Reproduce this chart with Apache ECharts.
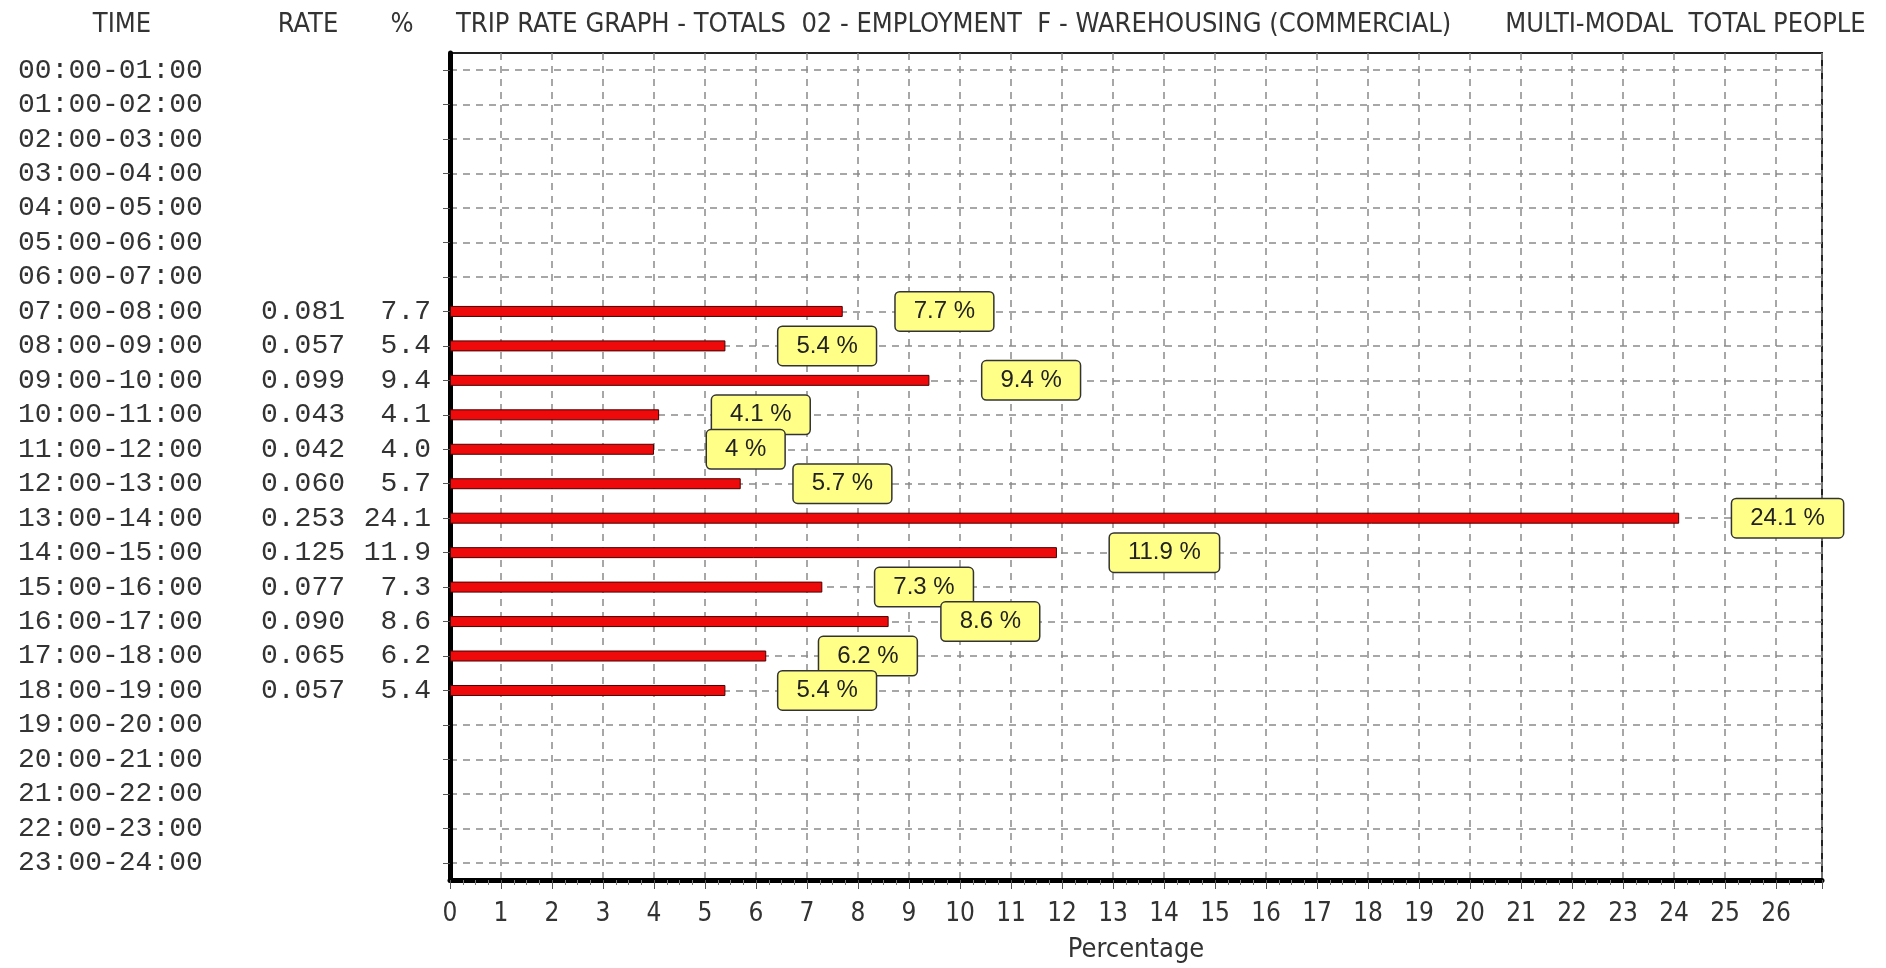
<!DOCTYPE html>
<html>
<head>
<meta charset="utf-8">
<script src="https://cdn.jsdelivr.net/npm/echarts@6/dist/echarts.min.js"></script>
<style>
  html, body { margin: 0; padding: 0; background: #fff; }
  #chart { width: 1886px; height: 968px; }
</style>
</head>
<body>
<div id="chart"></div>
<script>
// Hourly time slots, top to bottom
const hours = [
  '00:00-01:00', '01:00-02:00', '02:00-03:00', '03:00-04:00', '04:00-05:00', '05:00-06:00',
  '06:00-07:00', '07:00-08:00', '08:00-09:00', '09:00-10:00', '10:00-11:00', '11:00-12:00',
  '12:00-13:00', '13:00-14:00', '14:00-15:00', '15:00-16:00', '16:00-17:00', '17:00-18:00',
  '18:00-19:00', '19:00-20:00', '20:00-21:00', '21:00-22:00', '22:00-23:00', '23:00-24:00'
];
// Trip rate per slot (blank where no survey data)
const rates = [
  null, null, null, null, null, null, null,
  '0.081', '0.057', '0.099', '0.043', '0.042', '0.060', '0.253',
  '0.125', '0.077', '0.090', '0.065', '0.057',
  null, null, null, null, null
];
// Share of daily total, percent
const percents = [
  null, null, null, null, null, null, null,
  7.7, 5.4, 9.4, 4.1, 4.0, 5.7, 24.1,
  11.9, 7.3, 8.6, 6.2, 5.4,
  null, null, null, null, null
];

const headerFont = '"DejaVu Sans Condensed", "Liberation Sans Narrow", "Liberation Sans", sans-serif';
const monoFont = '"Liberation Mono", "DejaVu Sans Mono", monospace';
const headerStyle = { fontFamily: headerFont, fontSize: 27, fontWeight: 'normal', color: '#333' };

const chart = echarts.init(document.getElementById('chart'), null, { renderer: 'canvas' });

chart.setOption({
  animation: false,
  backgroundColor: '#ffffff',
  title: [
    { text: 'TIME', left: 117, top: 6, textAlign: 'center', textStyle: headerStyle },
    { text: 'RATE', left: 303, top: 6, textAlign: 'center', textStyle: headerStyle },
    { text: '%', left: 397, top: 6, textAlign: 'center', textStyle: headerStyle },
    { text: 'TRIP RATE GRAPH - TOTALS  02 - EMPLOYMENT  F - WAREHOUSING (COMMERCIAL)       MULTI-MODAL  TOTAL PEOPLE',
      left: 451, top: 6, textStyle: headerStyle }
  ],
  grid: {
    left: 450, right: 64, top: 53, bottom: 85,
    show: true, borderColor: '#222', borderWidth: 2, backgroundColor: '#fff'
  },
  xAxis: {
    type: 'value',
    min: 0, max: 26.9, interval: 1,
    name: 'Percentage',
    nameLocation: 'middle',
    nameGap: 56,
    nameTextStyle: { fontFamily: headerFont, fontSize: 27, color: '#333' },
    axisLine: { show: true, onZero: false, lineStyle: { color: '#000', width: 5 } },
    axisTick: { show: true, length: 9, lineStyle: { color: '#555', width: 1 } },
    minorTick: { show: true, splitNumber: 4, length: 5, lineStyle: { color: '#777', width: 1 } },
    axisLabel: {
      margin: 21,
      fontFamily: headerFont, fontSize: 26, color: '#333',
      showMaxLabel: false,
      formatter: v => (Number.isInteger(v) ? String(v) : '')
    },
    splitLine: { show: true, lineStyle: { color: '#8a8a8a', type: [7, 6], width: 1.5 } }
  },
  yAxis: {
    type: 'category',
    data: hours,
    inverse: true,
    axisLine: { show: true, lineStyle: { color: '#000', width: 5 } },
    axisTick: { show: true, alignWithLabel: true, length: 7, lineStyle: { color: '#555', width: 1 } },
    splitLine: { show: true, alignWithLabel: true, lineStyle: { color: '#8a8a8a', type: [7, 6], width: 1.5 } },
    axisLabel: {
      margin: 19,
      formatter: (val, idx) => {
        const r = rates[idx] == null ? '' : rates[idx];
        const p = percents[idx] == null ? '' : percents[idx].toFixed(1);
        return '{t|' + val + '}{r|' + r + '}{p|' + p + '}';
      },
      rich: {
        t: { width: 200, align: 'left', fontFamily: monoFont, fontSize: 28, color: '#333' },
        r: { width: 127, align: 'right', fontFamily: monoFont, fontSize: 28, color: '#333' },
        p: { width: 86, align: 'right', fontFamily: monoFont, fontSize: 28, color: '#333' }
      }
    }
  },
  series: [{
    type: 'bar',
    data: percents,
    barWidth: 11,
    itemStyle: { color: '#ee0a0a', borderColor: '#4a0000', borderWidth: 1 },
    label: {
      show: true,
      position: 'right',
      distance: 53,
      formatter: p => p.value + ' %',
      fontFamily: '"Liberation Sans", Arial, sans-serif',
      fontSize: 24,
      color: '#222',
      backgroundColor: '#ffff88',
      borderColor: '#333',
      borderWidth: 1.5,
      borderRadius: 4,
      padding: [7, 18]
    }
  }]
});
</script>
</body>
</html>
